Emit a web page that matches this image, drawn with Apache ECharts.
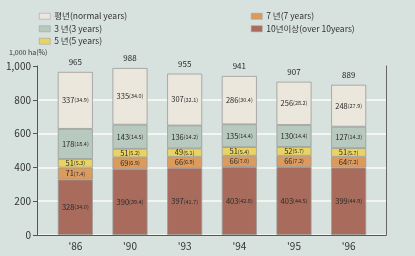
<!DOCTYPE html>
<html>
<head>
<meta charset="utf-8">
<script src="https://cdn.jsdelivr.net/npm/echarts@6/dist/echarts.min.js"></script>
<style>
  html, body { margin: 0; padding: 0; background: #d7e1de; }
  #chart { width: 415px; height: 256px; }
</style>
</head>
<body>
<div id="chart"></div>
<script>
const years = ["'86", "'90", "'93", "'94", "'95", "'96"];
const totals = [965, 988, 955, 941, 907, 889];

const over10 = [328, 390, 397, 403, 403, 399];
const over10Pct = [34.0, 39.4, 41.7, 42.8, 44.5, 44.9];
const y7 = [71, 69, 66, 66, 66, 64];
const y7Pct = [7.4, 6.9, 6.9, 7.0, 7.2, 7.2];
const y5 = [51, 51, 49, 51, 52, 51];
const y5Pct = [5.3, 5.2, 5.1, 5.4, 5.7, 5.7];
const y3 = [178, 143, 136, 135, 130, 127];
const y3Pct = [18.4, 14.5, 14.2, 14.4, 14.4, 14.3];
const normal = [337, 335, 307, 286, 256, 248];
const normalPct = [34.9, 34.0, 32.1, 30.4, 28.2, 27.9];

const yTicks = [0, 200, 400, 600, 800, 1000];

const FONT = '"Noto Sans CJK KR", "DejaVu Sans", sans-serif';

const names = ['평년(normal years)', '3 년(3 years)', '5 년(5 years)', '7 년(7 years)', '10년이상(over 10years)'];
const colors = ['#ece7dd', '#b8c9bf', '#e9d463', '#dc9a5c', '#a86b5c'];

function segment(name, values, pcts, color) {
  return {
    name: name,
    type: 'bar',
    stack: 'area',
    xAxisIndex: 1,
    yAxisIndex: 2,
    barWidth: 35,
    data: values,
    itemStyle: { color: color, borderColor: '#9a9a98', borderWidth: 0.8 },
    label: {
      show: true,
      position: 'inside',
      fontFamily: FONT,
      formatter: p => `{v|${p.value}}{p|(${pcts[p.dataIndex].toFixed(1)})}`,
      rich: {
        v: { fontSize: 7.5, color: '#2a2a2a', fontFamily: FONT },
        p: { fontSize: 5.5, color: '#2a2a2a', fontFamily: FONT },
      },
    },
  };
}

const legendBase = {
  orient: 'vertical',
  top: 7,
  itemWidth: 11, itemHeight: 6, itemGap: 4,
  icon: 'rect',
  textStyle: { fontSize: 8.5, color: '#333', fontFamily: FONT, padding: [0, 0, 0, -1] },
  itemStyle: { borderColor: '#999', borderWidth: 0.5 },
};

const chart = echarts.init(document.getElementById('chart'));
chart.setOption({
  backgroundColor: '#d7e1de',
  animation: false,
  textStyle: { fontFamily: FONT },
  color: colors,
  title: {
    text: '1,000 ha(%)',
    left: 4, top: 44,
    textStyle: { fontSize: 7, fontWeight: 'normal', color: '#333', fontFamily: FONT },
  },
  legend: [
    Object.assign({}, legendBase, { data: names.slice(0, 3), left: 34 }),
    Object.assign({}, legendBase, { data: names.slice(3), left: 246 }),
  ],
  grid: [
    { left: 37, right: 29, top: 66, bottom: 21 },
    { left: 48, right: 39, top: 66, bottom: 21 },
  ],
  xAxis: [
    {
      gridIndex: 0, type: 'value', min: 0, max: 1,
      axisLine: { show: true, lineStyle: { color: '#555', width: 1 } },
      axisTick: { show: false }, axisLabel: { show: false }, splitLine: { show: false },
    },
    {
      gridIndex: 1, type: 'category', data: years,
      axisLine: { show: false }, axisTick: { show: false },
      axisLabel: { color: '#333', fontSize: 10, margin: 6, fontFamily: FONT },
    },
  ],
  yAxis: [
    {
      gridIndex: 0, type: 'value', min: yTicks[0], max: yTicks[yTicks.length - 1], interval: 200,
      axisLine: { show: true, onZero: false, lineStyle: { color: '#555', width: 1 } },
      axisTick: { show: true, length: 4, lineStyle: { color: '#555' } },
      axisLabel: {
        color: '#333', fontSize: 10, margin: 6, fontFamily: FONT,
        formatter: v => v.toLocaleString('en-US'),
      },
      splitLine: {
        show: true,
        lineStyle: { color: ['#f3f5f3', '#f3f5f3', '#f3f5f3', '#f3f5f3', '#f3f5f3', 'rgba(0,0,0,0)'], width: 2 },
      },
    },
    {
      gridIndex: 0, type: 'value', position: 'right', min: 0, max: 1000,
      axisLine: { show: true, onZero: false, lineStyle: { color: '#666', width: 1 } },
      axisTick: { show: false }, axisLabel: { show: false }, splitLine: { show: false },
    },
    {
      gridIndex: 1, type: 'value', min: 0, max: 1000, show: false,
    },
  ],
  series: [
    segment(names[4], over10, over10Pct, colors[4]),
    segment(names[3], y7, y7Pct, colors[3]),
    segment(names[2], y5, y5Pct, colors[2]),
    segment(names[1], y3, y3Pct, colors[1]),
    segment(names[0], normal, normalPct, colors[0]),
    {
      name: 'total',
      type: 'bar',
      stack: 'area',
      xAxisIndex: 1,
      yAxisIndex: 2,
      barWidth: 35,
      data: totals.map(() => 0),
      itemStyle: { color: 'transparent' },
      label: {
        show: true, position: 'top', distance: 6,
        fontSize: 8, color: '#2a2a2a', fontFamily: FONT,
        formatter: p => String(totals[p.dataIndex]),
      },
    },
  ],
});
</script>
</body>
</html>
